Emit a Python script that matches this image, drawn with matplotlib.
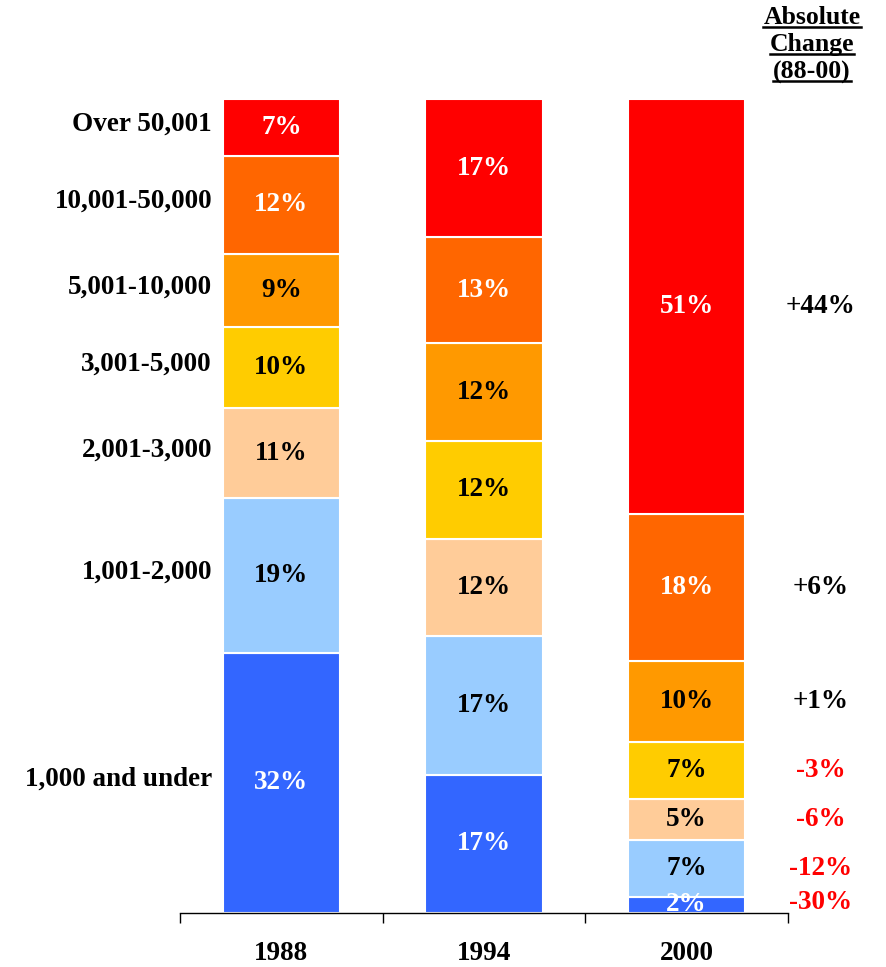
import matplotlib
matplotlib.use("Agg")
import matplotlib.pyplot as plt
from matplotlib.lines import Line2D

years = ["1988", "1994", "2000"]
categories = ["1,000 and under", "1,001-2,000", "2,001-3,000", "3,001-5,000",
              "5,001-10,000", "10,001-50,000", "Over 50,001"]
values_1988 = [32, 19, 11, 10, 9, 12, 7]
values_1994 = [17, 17, 12, 12, 12, 13, 17]
values_2000 = [2, 7, 5, 7, 10, 18, 51]
changes = ["-30%", "-12%", "-6%", "-3%", "+1%", "+6%", "+44%"]

colors = ["#3366FF", "#99CCFF", "#FFCC99", "#FFCC00", "#FF9900", "#FF6600", "#FF0000"]
text_colors = ["white", "black", "black", "black", "black", "white", "white"]

FONT = "Liberation Serif"
plt.rcParams["font.family"] = [FONT, "DejaVu Serif"]
FS = 19.5

W, H = 887, 967
fig = plt.figure(figsize=(W / 100, H / 100), dpi=100)
ax = fig.add_axes([180 / W, (H - 913) / H, (788 - 180) / W, (913 - 99) / H])

all_vals = [values_1988, values_1994, values_2000]
xs = [0.5, 1.5, 2.5]
bw = 0.58
for x, vals in zip(xs, all_vals):
    bottom = 0
    for i, v in enumerate(vals):
        ax.bar(x, v, width=bw, bottom=bottom, color=colors[i],
               edgecolor="white", linewidth=1.5, zorder=2)
        ax.text(x, bottom + v / 2, f"{v}%", ha="center", va="center",
                fontsize=FS, fontweight="bold", color=text_colors[i], zorder=3)
        bottom += v

ax.set_xlim(0, 3)
ax.set_ylim(0, 100)
for s in ["top", "left", "right"]:
    ax.spines[s].set_visible(False)
ax.spines["bottom"].set_linewidth(1.0)
ax.set_yticks([])
ax.set_xticks([0, 1, 2, 3])
ax.set_xticklabels([])
ax.tick_params(axis="x", direction="out", length=7, width=1.0)

# year labels
for x, y in zip(xs, years):
    ax.text(x, -5, y, ha="center", va="center", fontsize=FS, fontweight="bold",
            clip_on=False)

# category labels on left (centered on 1988 segments)
bottom = 0
for cat, v in zip(categories, values_1988):
    ax.text(0.158, bottom + v / 2 + 0.4, cat, ha="right", va="center", fontsize=FS,
            fontweight="bold", clip_on=False)
    bottom += v

# change labels on right (centered on 2000 segments)
bottom = 0
for ch, v in zip(changes, values_2000):
    col = "red" if ch.startswith("-") else "black"
    yc = bottom + v / 2
    if v < 3:
        yc = bottom + v / 2 + 0.3
    ax.text(3.16, yc, ch, ha="center", va="center", fontsize=FS,
            fontweight="bold", color=col, clip_on=False)
    bottom += v

# header
header = ["Absolute", "Change", "(88-00)"]
hy = [18, 45, 72]
for t, y in zip(header, hy):
    fig.text(812 / W, 1 - y / H, t, ha="center", va="center", fontsize=18.5,
             fontweight="bold")
fig.canvas.draw()
renderer = fig.canvas.get_renderer()
for t in list(fig.texts):
    bb = t.get_window_extent(renderer)
    yline = bb.y0 + 2.5
    fig.add_artist(Line2D([bb.x0 / W, bb.x1 / W], [yline / H, yline / H],
                          transform=fig.transFigure, color="black", linewidth=1.8))

fig.savefig("out.png", dpi=100)
